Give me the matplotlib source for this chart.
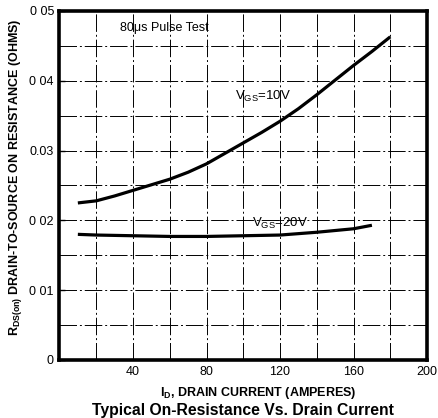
import matplotlib
matplotlib.use("Agg")
import matplotlib.pyplot as plt

plt.rcParams['font.family'] = ['Liberation Sans', 'DejaVu Sans']

# Data
vgs10_x = [10, 20, 30, 40, 50, 60, 70, 80, 90, 100, 110, 120, 130, 140, 150, 160, 170, 180]
vgs10_y = [0.0225, 0.0228, 0.0235, 0.0243, 0.0251, 0.0259, 0.0269, 0.0281, 0.0296, 0.0311,
           0.0326, 0.0342, 0.0360, 0.0380, 0.0401, 0.0422, 0.0442, 0.0463]
vgs20_x = [10, 20, 40, 60, 80, 100, 120, 140, 160, 170]
vgs20_y = [0.0180, 0.0179, 0.0178, 0.0177, 0.0177, 0.0178, 0.0179, 0.0183, 0.0188, 0.0193]

x_grid = [20, 40, 60, 80, 100, 120, 140, 160, 180]
y_grid = [0.005, 0.01, 0.015, 0.02, 0.025, 0.03, 0.035, 0.04, 0.045]
x_ticks = [40, 80, 120, 160, 200]
x_ticklabels = ['40', '80', '120', '160', '200']
y_ticks = [0, 0.01, 0.02, 0.03, 0.04, 0.05]
y_ticklabels = ['0', '0 01', '0 02', '0.03', '0 04', '0 05']

fig = plt.figure(figsize=(4.38, 4.18), dpi=100)
ax = fig.add_axes([0.1358, 0.1388, 0.8392, 0.8349])
ax.set_xlim(0, 200)
ax.set_ylim(0, 0.05)

gls = (0, (18, 3, 2, 3))
for gx in x_grid:
    ax.axvline(gx, color='black', lw=0.7, ls=gls, zorder=1)
for gy in y_grid:
    ax.axhline(gy, color='black', lw=0.7, ls=gls, zorder=1)

ax.plot(vgs10_x, vgs10_y, color='black', lw=2.3, solid_capstyle='butt', zorder=3)
ax.plot(vgs20_x, vgs20_y, color='black', lw=2.3, solid_capstyle='butt', zorder=3)

ax.set_xticks(x_ticks)
ax.set_xticklabels(x_ticklabels, fontsize=9)
ax.set_yticks(y_ticks)
ax.set_yticklabels(y_ticklabels, fontsize=9)
ax.tick_params(axis='x', length=0, pad=4)
ax.tick_params(axis='y', direction='in', length=4, width=1, pad=4)

for s in ax.spines.values():
    s.set_linewidth(2.6)

ax.text(33, 0.0476, '80\u03bcs Pulse Test', fontsize=9, va='center', ha='left')
ax.text(95.5, 0.0377, r'V$_{\mathregular{GS}}$=10V', fontsize=9.5, va='center', ha='left')
ax.text(105, 0.0195, r'V$_{\mathregular{GS}}$=20V', fontsize=9.5, va='center', ha='left')

fig.text(0.589, 0.0598, r'I$_{\mathregular{D}}$, DRAIN CURRENT (AMPERES)', fontsize=9,
         fontweight='bold', ha='center', va='center')
fig.text(0.0365, 0.5766, r'R$_{\mathregular{DS(on)}}$ DRAIN-TO-SOURCE ON RESISTANCE (OHMS)',
         fontsize=9, fontweight='bold', ha='center', va='center', rotation=90)
fig.text(0.555, 0.019, 'Typical On-Resistance Vs. Drain Current', fontsize=11.3,
         fontweight='bold', ha='center', va='center')

fig.savefig('out.png', dpi=100)
